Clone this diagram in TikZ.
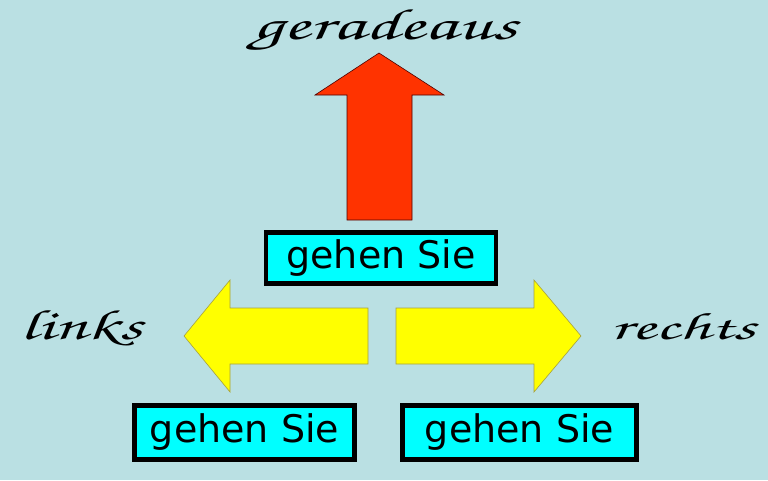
\documentclass[tikz,border=0pt]{standalone}
\usepackage{fontspec}
\setmainfont{DejaVu Sans}
\newfontfamily\boxfont{DejaVu Sans}
\newcommand{\scriptfnt}{\fontencoding{OT1}\fontfamily{pzc}\fontseries{mb}\fontshape{it}\selectfont}
\definecolor{bgc}{RGB}{186,224,227}
\definecolor{redc}{RGB}{255,51,0}
\definecolor{yelc}{RGB}{255,255,0}
\definecolor{cyanc}{RGB}{0,255,255}
\tikzset{
  gobox/.style={draw=black, line width=4.5pt, fill=cyanc, minimum width=228pt, minimum height=50pt, inner sep=0pt, font=\boxfont\fontsize{38}{38}\selectfont},
  scripttext/.style={inner sep=0pt, font=\scriptfnt\fontsize{52}{52}\selectfont},
  redarrow/.style={fill=redc, draw=black!70!red, line width=0.6pt},
  yelarrow/.style={fill=yelc, draw=black!40!yellow, line width=0.6pt}
}
\begin{document}
\begin{tikzpicture}[x=1pt,y=-1pt]
\fill[bgc] (0,0) rectangle (768,480);
\useasboundingbox (0,0) rectangle (768,480);
% red arrow up
\draw[redarrow] (379,53) -- (444,95) -- (412,95) -- (412,220) -- (347,220) -- (347,95) -- (315,95) -- cycle;
% left yellow arrow
\draw[yelarrow] (184,336) -- (230,280) -- (230,308) -- (368,308) -- (368,364) -- (230,364) -- (230,392) -- cycle;
% right yellow arrow
\draw[yelarrow] (581,336) -- (534,280) -- (534,308) -- (396,308) -- (396,364) -- (534,364) -- (534,392) -- cycle;
% boxes
\node[gobox, minimum width=230pt, minimum height=51pt] (top) at (381,258) {gehen Sie};
\node[gobox, minimum width=220pt, minimum height=54pt] (bl) at (244.5,432.5) {gehen Sie};
\node[gobox, minimum width=234pt, minimum height=54pt] (br) at (519.5,432.5) {gehen Sie};
% script labels
\node[scripttext, anchor=base west] (ger) at (252,39) {\resizebox{265pt}{31pt}{geradeaus}};
\node[scripttext, anchor=base west] (lnk) at (20,339) {\resizebox{122pt}{30pt}{links}};
\node[scripttext, anchor=base west] (rch) at (610,339) {\resizebox{145pt}{27pt}{rechts}};
\end{tikzpicture}
\end{document}
